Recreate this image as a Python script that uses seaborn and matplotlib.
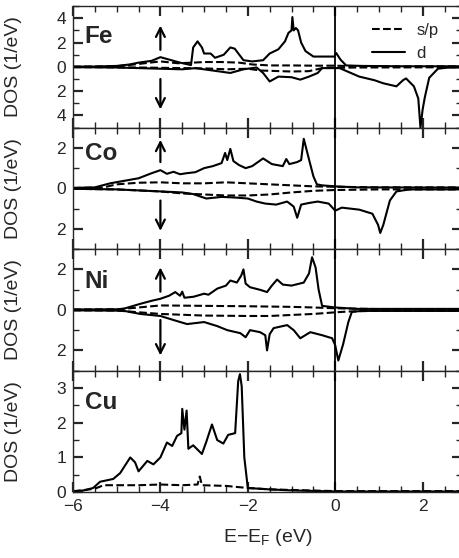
import numpy as np
import matplotlib
matplotlib.use("Agg")
import matplotlib.pyplot as plt
from matplotlib.ticker import MultipleLocator, FuncFormatter
from matplotlib.lines import Line2D
import seaborn as sns

# --- data (energies in eV, DOS in 1/eV) ---
# Fe
fe_up_d_e = [-6.0, -5.5, -5.0, -4.7, -4.5, -4.2, -4.0, -3.8, -3.55, -3.3, -3.25, -3.15, -3.05, -3.0, -2.85,
             -2.75, -2.55, -2.4, -2.3, -2.1, -1.9, -1.65, -1.5, -1.3, -1.15, -1.07, -1.0, -0.98, -0.95, -0.9,
             -0.85, -0.78, -0.68, -0.5, -0.02, 0.02, 0.12, 0.25, 0.6, 1.5, 2.9]
fe_up_d = [0.02, 0.03, 0.08, 0.2, 0.35, 0.5, 0.8, 0.6, 0.35, 0.15, 1.6, 2.1, 1.6, 1.1, 1.1,
           0.75, 1.0, 1.6, 1.5, 0.55, 0.45, 0.55, 1.1, 1.45, 2.1, 2.8, 3.0, 4.1, 3.0, 3.2,
           3.0, 2.0, 1.3, 0.85, 0.85, 1.15, 0.6, 0.12, 0.08, 0.05, 0.05]
fe_up_sp_e = [-6.0, -5.0, -4.6, -4.0, -3.6, -3.25, -3.0, -2.6, -2.2, -1.9, -1.5, -1.0, -0.5, 0.0, 0.5, 2.9]
fe_up_sp = [0.02, 0.05, 0.2, 0.45, 0.3, 0.35, 0.4, 0.4, 0.35, 0.2, 0.12, 0.12, 0.1, 0.1, 0.05, 0.04]
fe_dn_d_e = [-6.0, -5.0, -4.5, -4.0, -3.5, -3.2, -2.8, -2.4, -2.1, -1.8, -1.65, -1.5, -1.3, -1.0, -0.8,
             -0.6, -0.4, -0.3, 0.1, 0.55, 0.9, 1.1, 1.4, 1.55, 1.62, 1.8, 1.9, 1.95, 2.0, 2.05,
             2.15, 2.35, 2.6, 2.9]
fe_dn_d = [0.02, 0.05, 0.1, 0.15, 0.2, 0.1, 0.3, 0.5, 0.2, 0.05, 0.5, 1.2, 0.8, 0.85, 1.05,
           0.8, 0.5, 0.1, 0.1, 0.8, 1.1, 1.35, 1.6, 1.1, 0.95, 1.6, 2.6, 5.0, 3.5, 2.5,
           0.9, 0.15, 0.05, 0.05]
fe_dn_sp_e = [-6.0, -4.5, -3.5, -3.0, -2.5, -2.0, -1.7, -1.0, -0.6, -0.3, 0.5, 2.9]
fe_dn_sp = [0.02, 0.05, 0.1, 0.12, 0.2, 0.15, 0.3, 0.38, 0.35, 0.1, 0.05, 0.03]

# Co
co_up_d_e = [-6.0, -5.5, -5.15, -4.5, -4.2, -4.0, -3.85, -3.7, -3.55, -3.4, -3.2, -3.0, -2.8, -2.6, -2.52,
             -2.47, -2.4, -2.33, -2.2, -2.05, -1.9, -1.65, -1.45, -1.2, -1.12, -1.05, -0.87, -0.78, -0.72,
             -0.62, -0.5, -0.42, -0.3, 0.0, 0.5, 2.9]
co_up_d = [0.02, 0.05, 0.25, 0.5, 0.75, 0.9, 0.72, 0.82, 0.7, 0.75, 0.8, 1.0, 1.1, 1.25, 1.75,
           1.4, 1.95, 1.35, 1.15, 1.0, 1.1, 1.48, 1.2, 1.1, 1.45, 1.2, 1.3, 1.4, 2.45,
           1.6, 0.6, 0.2, 0.15, 0.1, 0.05, 0.04]
co_up_sp_e = [-6.0, -5.3, -5.0, -4.5, -4.0, -3.5, -3.0, -2.5, -2.0, -1.5, -1.0, -0.5, 0.0, 1.0, 2.9]
co_up_sp = [0.02, 0.05, 0.2, 0.28, 0.3, 0.25, 0.25, 0.3, 0.25, 0.2, 0.15, 0.1, 0.08, 0.05, 0.05]
co_dn_d_e = [-6.0, -5.0, -4.5, -4.0, -3.5, -3.25, -2.95, -2.6, -2.3, -2.0, -1.8, -1.6, -1.35, -1.1, -0.95,
             -0.87, -0.78, -0.6, -0.4, -0.15, 0.0, 0.15, 0.55, 0.85, 0.98, 1.03, 1.1, 1.25, 1.4, 1.7, 2.9]
co_dn_d = [0.02, 0.05, 0.1, 0.15, 0.2, 0.28, 0.5, 0.42, 0.45, 0.5, 0.65, 0.75, 0.8, 0.65, 0.9,
           1.45, 0.8, 0.72, 0.65, 0.75, 1.1, 0.95, 1.05, 1.25, 1.8, 2.2, 1.8, 0.6, 0.15, 0.05, 0.05]
co_dn_sp_e = [-6.0, -5.0, -4.5, -4.0, -3.5, -3.0, -2.5, -2.0, -1.5, -1.0, -0.5, 0.0, 1.0, 2.9]
co_dn_sp = [0.02, 0.05, 0.1, 0.15, 0.25, 0.3, 0.35, 0.35, 0.3, 0.2, 0.12, 0.08, 0.05, 0.05]

# Ni
ni_up_d_e = [-6.0, -5.0, -4.85, -4.46, -4.2, -4.0, -3.8, -3.66, -3.55, -3.5, -3.45, -3.24, -3.0, -2.9, -2.7,
             -2.5, -2.4, -2.25, -2.15, -2.1, -2.05, -1.95, -1.7, -1.56, -1.45, -1.33, -1.2, -1.0, -0.72,
             -0.6, -0.53, -0.45, -0.38, -0.3, 0.0, 0.5, 2.9]
ni_up_d = [0.02, 0.03, 0.05, 0.3, 0.45, 0.55, 0.7, 0.88, 0.7, 0.9, 0.6, 0.65, 0.8, 0.75, 1.05,
           1.2, 1.45, 1.35, 1.7, 2.0, 1.3, 1.12, 0.98, 0.88, 1.2, 1.5, 1.25, 1.2, 1.35,
           1.8, 2.6, 2.1, 1.0, 0.2, 0.12, 0.05, 0.05]
ni_up_sp_e = [-6.0, -5.0, -4.6, -4.0, -3.0, -2.0, -1.0, -0.5, 0.0, 1.0, 2.9]
ni_up_sp = [0.02, 0.03, 0.1, 0.22, 0.2, 0.18, 0.15, 0.12, 0.08, 0.04, 0.04]
ni_dn_d_e = [-6.0, -4.85, -4.46, -4.0, -3.7, -3.39, -3.0, -2.7, -2.47, -2.17, -2.05, -1.95, -1.72, -1.6,
             -1.56, -1.5, -1.41, -1.1, -0.95, -0.8, -0.57, -0.3, -0.07, 0.0, 0.07, 0.18, 0.3, 0.38,
             0.6, 2.9]
ni_dn_d = [0.02, 0.04, 0.2, 0.3, 0.5, 0.7, 0.6, 0.8, 1.0, 1.15, 1.35, 1.0, 1.1, 1.25,
           2.0, 1.2, 0.9, 0.75, 1.0, 1.4, 1.1, 1.25, 1.4, 1.75, 2.5, 1.7, 0.6, 0.1,
           0.05, 0.05]
ni_dn_sp_e = [-6.0, -5.0, -4.6, -4.0, -3.0, -2.0, -1.5, -1.0, -0.5, 0.0, 0.3, 1.0, 2.9]
ni_dn_sp = [0.02, 0.03, 0.1, 0.2, 0.28, 0.3, 0.3, 0.25, 0.2, 0.12, 0.08, 0.04, 0.04]

# Cu (no spin splitting)
cu_d_e = [-6.0, -5.75, -5.54, -5.38, -5.08, -4.92, -4.69, -4.58, -4.5, -4.3, -4.16, -4.0, -3.85, -3.73,
          -3.62, -3.52, -3.5, -3.45, -3.4, -3.36, -3.25, -3.05, -2.95, -2.82, -2.7, -2.56, -2.45, -2.29,
          -2.22, -2.18, -2.14, -2.08, -2.0, -1.5, -1.0, 0.0, 2.9]
cu_d = [0.03, 0.05, 0.12, 0.3, 0.38, 0.55, 1.0, 0.86, 0.6, 0.9, 0.8, 1.0, 1.43, 1.33,
        1.62, 1.7, 2.4, 1.8, 2.35, 1.25, 1.35, 1.1, 1.45, 1.95, 1.5, 1.4, 1.65, 1.7,
        3.2, 3.4, 3.05, 1.0, 0.12, 0.08, 0.05, 0.02, 0.02]
cu_sp_e = [-6.0, -5.5, -5.3, -4.5, -4.0, -3.5, -3.15, -3.1, -3.05, -2.5, -2.0, -1.5, 0.0, 2.9]
cu_sp = [0.02, 0.1, 0.2, 0.2, 0.22, 0.2, 0.22, 0.45, 0.2, 0.18, 0.12, 0.08, 0.03, 0.03]

elements = ["Fe", "Co", "Ni", "Cu"]
x_ticks = [-6, -4, -2, 0, 2]

sns.set_style("ticks")
plt.rcParams['font.family'] = ['Liberation Sans', 'DejaVu Sans']
plt.rcParams['axes.unicode_minus'] = True

fig, axes = plt.subplots(4, 1, figsize=(4.59, 5.58), dpi=100, sharex=True)
fig.subplots_adjust(left=0.159, right=1.0065, top=0.989, bottom=0.118, hspace=0)

lw = 1.5
curves = [
    [(fe_up_sp_e, fe_up_sp, 1, "--"), (fe_up_d_e, fe_up_d, 1, "-"),
     (fe_dn_sp_e, fe_dn_sp, -1, "--"), (fe_dn_d_e, fe_dn_d, -1, "-")],
    [(co_up_sp_e, co_up_sp, 1, "--"), (co_up_d_e, co_up_d, 1, "-"),
     (co_dn_sp_e, co_dn_sp, -1, "--"), (co_dn_d_e, co_dn_d, -1, "-")],
    [(ni_up_sp_e, ni_up_sp, 1, "--"), (ni_up_d_e, ni_up_d, 1, "-"),
     (ni_dn_sp_e, ni_dn_sp, -1, "--"), (ni_dn_d_e, ni_dn_d, -1, "-")],
    [(cu_sp_e, cu_sp, 1, "--"), (cu_d_e, cu_d, 1, "-")],
]
ylims = [(-5, 5), (-3, 3), (-3, 3), (0, 3.5)]
ymajor = [2, 2, 2, 1]
yminor = [1, 1, 1, 0.5]
label_y = [0.75, 0.79, 0.73, 0.74]
# arrow (tail, head) in data y, at x=-4
arrows_up = [(1.4, 3.4), (1.3, 2.4), (0.9, 2.1)]
arrows_dn = [(-1.0, -3.5), (-0.6, -2.1), (-0.5, -2.25)]

for i, ax in enumerate(axes):
    for e, v, sign, ls in curves[i]:
        sns.lineplot(x=np.array(e), y=sign * np.array(v), ax=ax, color="black",
                     lw=lw, linestyle=ls, estimator=None, sort=False)
    ax.axvline(0, color="black", lw=1.3)
    ax.set_xlim(-6, 2.9)
    ax.set_ylim(*ylims[i])
    ax.yaxis.set_major_locator(MultipleLocator(ymajor[i]))
    ax.yaxis.set_minor_locator(MultipleLocator(yminor[i]))
    ax.yaxis.set_major_formatter(FuncFormatter(lambda v, p: f"{abs(v):g}"))
    ax.xaxis.set_major_locator(MultipleLocator(2))
    ax.xaxis.set_minor_locator(MultipleLocator(0.5))
    ax.tick_params(which="both", direction="in", top=True, right=True, labelsize=12.5, pad=5)
    ax.tick_params(which="major", length=7, width=1.6)
    ax.tick_params(which="minor", length=4.5, width=1.0)
    ax.set_ylabel("DOS (1/eV)", fontsize=14)
    ax.yaxis.set_label_coords(-0.13, 0.5)
    for s in ax.spines.values():
        s.set_linewidth(1.0)
    ax.spines["right"].set_visible(False)
    ax.text(0.03, label_y[i], elements[i], transform=ax.transAxes, fontsize=17.5,
            fontweight="bold", va="center", ha="left")
    if i < 3:
        for tail, head in (arrows_up[i], arrows_dn[i]):
            ax.annotate("", xy=(-4, head), xytext=(-4, tail),
                        arrowprops=dict(arrowstyle="->", lw=1.6, color="black",
                                        mutation_scale=16, shrinkA=0, shrinkB=0))

axes[-1].set_xticks(x_ticks)
axes[-1].set_xlabel("E\u2212E$_\\mathregular{F}$ (eV)", fontsize=14, labelpad=9)

handles = [Line2D([], [], color="black", lw=lw, ls="--"), Line2D([], [], color="black", lw=lw, ls="-")]
axes[0].legend(handles, ["s/p", "d"], loc="upper right", frameon=False, fontsize=12,
               handlelength=2.0, borderaxespad=0.3, handletextpad=0.7, labelspacing=0.45,
               bbox_to_anchor=(0.97, 0.955))

fig.savefig("out.png", dpi=100)
